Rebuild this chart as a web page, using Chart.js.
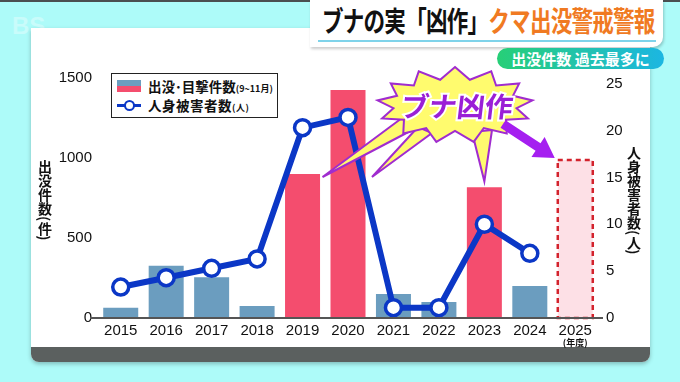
<!DOCTYPE html>
<html lang="ja">
<head>
<meta charset="utf-8">
<script src="https://cdn.jsdelivr.net/npm/chart.js@4.4.1/dist/chart.umd.min.js"></script>
<style>
html,body{margin:0;padding:0;}
body{width:680px;height:382px;overflow:hidden;background:#adfbf9;position:relative;font-family:"Noto Sans CJK JP",sans-serif;}
#topline{position:absolute;left:0;top:0;width:680px;height:2px;background:#4a4f50;}
#logo{position:absolute;left:12px;top:12px;font:bold 24px "Liberation Sans",sans-serif;color:rgba(255,255,255,.35);}
#panel{position:absolute;left:31px;top:28px;width:619px;height:334px;background:#fff;border-radius:0 0 8px 8px;box-shadow:0 2px 4px rgba(0,0,0,.25);overflow:hidden;}
#band{position:absolute;left:0;bottom:0;width:100%;height:15px;background:#5b605f;}
#titlebox{position:absolute;left:310px;top:0;width:353px;height:47px;background:#fff;border-radius:0 0 10px 0;box-shadow:1px 2px 3px rgba(0,0,0,.2);}
#title{position:absolute;left:12px;top:1px;font-weight:bold;font-size:28px;line-height:38px;letter-spacing:-1px;transform:scaleX(0.77);transform-origin:left top;white-space:nowrap;color:#111;}
#title span{color:#f07a22;}
#uline{position:absolute;left:8px;top:40px;width:338px;height:2px;background:#7fd3ea;}
#pill{position:absolute;left:497px;top:48px;width:167px;height:21px;border-radius:11px;background:linear-gradient(to right,#27cf77,#1cb6e2);color:#fff;font-weight:bold;font-size:15px;line-height:21px;text-align:center;white-space:nowrap;}
#legend{position:absolute;left:111px;top:73px;width:165px;height:43px;border:1.5px solid #222;background:#fff;}
.row{position:absolute;left:5px;height:20px;font-weight:bold;font-size:13.5px;line-height:20px;white-space:nowrap;color:#111;}
.row small{font-size:9px;font-weight:bold;}
.sw{position:absolute;left:0;top:4px;width:24px;height:12px;}
.txt{position:absolute;left:31px;top:0;}
#ltitle,#rtitle{position:absolute;writing-mode:vertical-rl;font-weight:bold;font-size:14px;color:#111;line-height:16px;}
#ltitle{left:37px;top:160px;}
#rtitle{left:626px;top:146px;}
canvas{position:absolute;left:0;top:0;}
</style>
</head>
<body>
<div id="topline"></div>
<div id="logo">BS</div>
<div id="panel"><div id="band"></div></div>
<div id="titlebox"><div id="title">ブナの実「凶作」<span>クマ出没警戒警報</span></div><div id="uline"></div></div>
<div id="pill">出没件数 過去最多に</div>
<canvas id="chart" width="680" height="382"></canvas>
<div id="legend">
  <div class="row" style="top:2px"><div class="sw" style="background:linear-gradient(#6b9dbf 50%,#f44d6e 50%)"></div><div class="txt">出没･目撃件数<small>(9~11月)</small></div></div>
  <div class="row" style="top:21px"><div class="sw"><div style="position:absolute;left:0;top:5px;width:24px;height:3px;background:#0b37c6"></div><div style="position:absolute;left:7px;top:1px;width:7px;height:7px;border:2px solid #0b37c6;border-radius:50%;background:#fff"></div></div><div class="txt" style="letter-spacing:0.5px">人身被害者数<small>(人)</small></div></div>
</div>
<div id="ltitle">出没件数(件)</div>
<div id="rtitle">人身被害者数(人)</div>
<script>
// 出没・目撃件数と人身被害者数
const years = ['2015','2016','2017','2018','2019','2020','2021','2022','2023','2024','2025'];
const sightings = [64, 327, 254, 75, 900, 1425, 150, 100, 817, 200, 988];
const victims = [3.3, 4.3, 5.3, 6.3, 20.3, 21.4, 1.1, 1.1, 10.0, 6.9, null];
const leftTicks = [0, 500, 1000, 1500];
const rightTicks = [0, 5, 10, 15, 20, 25];
const poorYears = ['2019','2020','2023'];   // ブナ凶作の年
const forecastYear = '2025';

const BLUE_BAR = '#6b9dbf', RED_BAR = '#f44d6e', PINK = '#fde0e6', LINE = '#0b37c6';
const PURPLE = '#a02ccf', YELLOW = '#fffb6e';

const barColors = years.map(y => y === forecastYear ? PINK : poorYears.includes(y) ? RED_BAR : BLUE_BAR);

function burstPath(ctx, cx, cy, rx1, ry1, rx2, ry2, n){
  ctx.beginPath();
  for(let i=0;i<n*2;i++){
    const a = -Math.PI/2 + i*Math.PI/n;
    const rx = i%2 ? rx2 : rx1, ry = i%2 ? ry2 : ry1;
    const px = cx + Math.cos(a)*rx, py = cy + Math.sin(a)*ry;
    i ? ctx.lineTo(px,py) : ctx.moveTo(px,py);
  }
  ctx.closePath();
}

function spike(ctx, b1, b2, tip){
  ctx.beginPath();
  ctx.moveTo(b1[0],b1[1]); ctx.lineTo(tip[0],tip[1]); ctx.lineTo(b2[0],b2[1]);
  ctx.closePath();
  ctx.fill(); ctx.stroke();
}

const decor = {
  id: 'decor',
  afterDatasetsDraw(chart){
    const {ctx, chartArea, scales:{x, y}} = chart;
    const fi = years.indexOf(forecastYear);
    const el = chart.getDatasetMeta(1).data[fi];
    ctx.save();
    // 2025年度 予測枠
    ctx.setLineDash([5,4]); ctx.strokeStyle = '#d3222c'; ctx.lineWidth = 2.5;
    ctx.strokeRect(el.x - el.width/2, el.y, el.width, el.base - el.y);
    ctx.setLineDash([]);
    // 基線
    const y0 = y.getPixelForValue(0);
    ctx.strokeStyle = '#555'; ctx.lineWidth = 2;
    ctx.beginPath(); ctx.moveTo(chartArea.left - 8, y0); ctx.lineTo(chartArea.right + 5, y0); ctx.stroke();
    // (年度)
    ctx.fillStyle = '#111'; ctx.font = 'bold 9px "Noto Sans CJK JP"'; ctx.textAlign = 'center'; ctx.textBaseline = 'middle';
    ctx.fillText('(年度)', x.getPixelForValue(fi), y0 + 25);

    // 吹き出し「ブナ凶作」
    const cx = 455, cy = 105;
    ctx.fillStyle = YELLOW; ctx.strokeStyle = PURPLE; ctx.lineWidth = 2; ctx.lineJoin = 'miter';
    const topBar = y.getPixelForValue(sightings[4]);
    spike(ctx, [cx-53, cy+13], [cx-39, cy+23], [x.getPixelForValue(4)+20, topBar+3]);
    spike(ctx, [cx-37, cy+22], [cx-23, cy+28], [x.getPixelForValue(5)+24, topBar+3]);
    spike(ctx, [cx+17, cy+27], [cx+37, cy+25], [x.getPixelForValue(8), y.getPixelForValue(sightings[8]) - 6]);
    burstPath(ctx, cx, cy, 78, 38, 62, 26, 13);
    ctx.fill(); ctx.stroke();

    // 矢印
    const sx = cx + 48, sy = cy + 19;
    const tx = el.x - el.width/2 - 3, ty = el.y - 2;
    const ang = Math.atan2(ty - sy, tx - sx), len = Math.hypot(tx - sx, ty - sy);
    ctx.translate(sx, sy); ctx.rotate(ang);
    ctx.fillStyle = '#a51ff0';
    ctx.beginPath();
    ctx.moveTo(0,-4.5); ctx.lineTo(len-20,-4.5); ctx.lineTo(len-20,-12); ctx.lineTo(len,0);
    ctx.lineTo(len-20,12); ctx.lineTo(len-20,4.5); ctx.lineTo(0,4.5); ctx.closePath();
    ctx.fill();
    ctx.setTransform(1,0,0,1,0,0);

    ctx.translate(cx + 2, cy + 1); ctx.transform(1,0,-0.12,1,0,0);
    ctx.font = 'bold 28px "Noto Sans CJK JP"'; ctx.textAlign = 'center'; ctx.textBaseline = 'middle';
    ctx.lineWidth = 4; ctx.strokeStyle = '#fff'; ctx.strokeText('ブナ凶作', 0, 0);
    ctx.fillStyle = '#9a1fd6'; ctx.fillText('ブナ凶作', 0, 0);
    ctx.restore();
  }
};

const tickFont = { family: '"Liberation Sans"', size: 15 };

new Chart(document.getElementById('chart'), {
  type: 'bar',
  data: {
    labels: years,
    datasets: [
      {
        type: 'line', label: '人身被害者数', data: victims, yAxisID: 'y1',
        borderColor: LINE, borderWidth: 6, tension: 0,
        pointRadius: 8, pointBorderWidth: 3.5, pointBackgroundColor: '#fff', pointBorderColor: LINE
      },
      {
        label: '出没・目撃件数', data: sightings, yAxisID: 'y',
        backgroundColor: barColors, barPercentage: 0.77, categoryPercentage: 1
      }
    ]
  },
  options: {
    responsive: false, animation: false,
    layout: { padding: { left: 58, right: 42, top: 78, bottom: 34 } },
    plugins: { legend: { display: false }, tooltip: { enabled: false } },
    scales: {
      x: {
        grid: { display: false, drawTicks: false }, border: { display: false },
        ticks: { padding: 4, color: '#111', font: tickFont },
        afterFit: s => { s.height = 30; }
      },
      y: {
        min: 0, max: 1500,
        grid: { display: false, drawTicks: false }, border: { display: false },
        ticks: { padding: 6, color: '#111', font: tickFont, callback: v => String(v) },
        afterBuildTicks: s => { s.ticks = leftTicks.map(v => ({ value: v })); },
        afterFit: s => { s.width = 40; }
      },
      y1: {
        position: 'right', min: 0, max: 25.6,
        grid: { display: false, drawTicks: false }, border: { display: false },
        ticks: { padding: 8, color: '#111', font: tickFont, callback: v => String(v) },
        afterBuildTicks: s => { s.ticks = rightTicks.map(v => ({ value: v })); },
        afterFit: s => { s.width = 40; }
      }
    }
  },
  plugins: [decor]
});
</script>
</body>
</html>
